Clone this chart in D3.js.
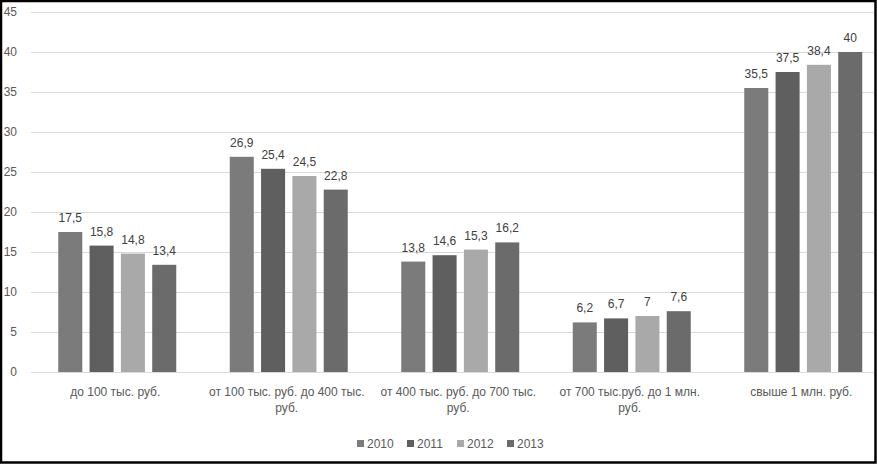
<!DOCTYPE html>
<html><head><meta charset="utf-8">
<script src="https://cdn.jsdelivr.net/npm/d3@7"></script>
<style>body{margin:0;background:#fff}svg{display:block}text{font-family:"Liberation Sans",Arial,sans-serif}</style>
</head><body>
<script>
const categories = ["до 100 тыс. руб.", "от 100 тыс. руб. до 400 тыс.\nруб.", "от 400 тыс. руб. до 700 тыс.\nруб.", "от 700 тыс.руб. до 1 млн.\nруб.", "свыше 1 млн. руб."];
const seriesNames = ["2010", "2011", "2012", "2013"];
const values2010 = [17.5, 26.9, 13.8, 6.2, 35.5];
const values2011 = [15.8, 25.4, 14.6, 6.7, 37.5];
const values2012 = [14.8, 24.5, 15.3, 7, 38.4];
const values2013 = [13.4, 22.8, 16.2, 7.6, 40];
const yTicks = [0, 5, 10, 15, 20, 25, 30, 35, 40, 45];
const colors = ["#7b7b7b", "#5f5f5f", "#a9a9a9", "#6b6b6b"];
const seriesValues = [values2010, values2011, values2012, values2013];

const W = 877, H = 464;
const svg = d3.select("body").append("svg").attr("width", W).attr("height", H);

const innerW = 118;
const x0 = d3.scaleBand().domain(d3.range(categories.length)).range([31.5, 889]);
const x1 = d3.scaleBand().domain(d3.range(seriesNames.length)).range([0, innerW]).paddingInner(0.233).paddingOuter(0);
const groupOffset = (x0.bandwidth() - innerW) / 2;
const y = d3.scaleLinear().domain([0, 45]).range([372, 12]);

// gridlines
svg.append("g").selectAll("line").data(yTicks).join("line")
  .attr("x1", 31).attr("x2", 874)
  .attr("y1", d => y(d) + 0.5).attr("y2", d => y(d) + 0.5)
  .attr("stroke", "#d9d9d9").attr("stroke-width", 1);

// y axis labels
const yAxis = d3.axisLeft(y).tickValues(yTicks).tickSize(0).tickPadding(0).tickFormat(d3.format("d"));
const ya = svg.append("g").attr("transform", "translate(17,0)").call(yAxis);
ya.select(".domain").remove();
ya.selectAll("text").attr("fill", "#595959").style("font-size", "12px").style("font-family", '"Liberation Sans",Arial,sans-serif');

const fmt = v => String(v).replace(".", ",");

// bars
const groups = svg.append("g").selectAll("g").data(categories).join("g")
  .attr("transform", (d, i) => `translate(${x0(i) + groupOffset},0)`);
groups.each(function(c, ci) {
  const g = d3.select(this);
  const data = seriesValues.map((s, si) => ({si, v: s[ci]}));
  g.selectAll("rect").data(data).join("rect")
    .attr("x", d => x1(d.si)).attr("width", x1.bandwidth())
    .attr("y", d => y(d.v)).attr("height", d => y(0) - y(d.v))
    .attr("fill", d => colors[d.si]);
  g.selectAll("text.val").data(data).join("text").attr("class", "val")
    .attr("x", d => x1(d.si) + x1.bandwidth() / 2).attr("y", d => y(d.v) - 10)
    .attr("text-anchor", "middle").attr("fill", "#404040").style("font-size", "12px")
    .text(d => fmt(d.v));
});

// x category labels
const xl = svg.append("g").selectAll("text").data(categories).join("text")
  .attr("text-anchor", "middle").attr("fill", "#595959").style("font-size", "12px")
  .attr("transform", (d, i) => `translate(${x0(i) + x0.bandwidth() / 2 - 2},396)`);
xl.each(function(d) {
  const t = d3.select(this);
  d.split("\n").forEach((line, li) => {
    t.append("tspan").attr("x", 0).attr("y", li * 16).text(line);
  });
});

// legend
const legendX = d3.scaleBand().domain(d3.range(seriesNames.length)).range([357, 557]);
const lg = svg.append("g").selectAll("g").data(seriesNames).join("g")
  .attr("transform", (d, i) => `translate(${legendX(i)},440)`);
lg.append("rect").attr("width", 7).attr("height", 7).attr("fill", (d, i) => colors[i]);
lg.append("text").attr("x", 10).attr("y", 7.5).attr("fill", "#595959").style("font-size", "12px").text(d => d);

// border
svg.append("rect").attr("x", 1).attr("y", 1).attr("width", W - 2.5).attr("height", H - 2.5)
  .attr("fill", "none").attr("stroke", "#000").attr("stroke-width", 2.5);
</script>
</body></html>
